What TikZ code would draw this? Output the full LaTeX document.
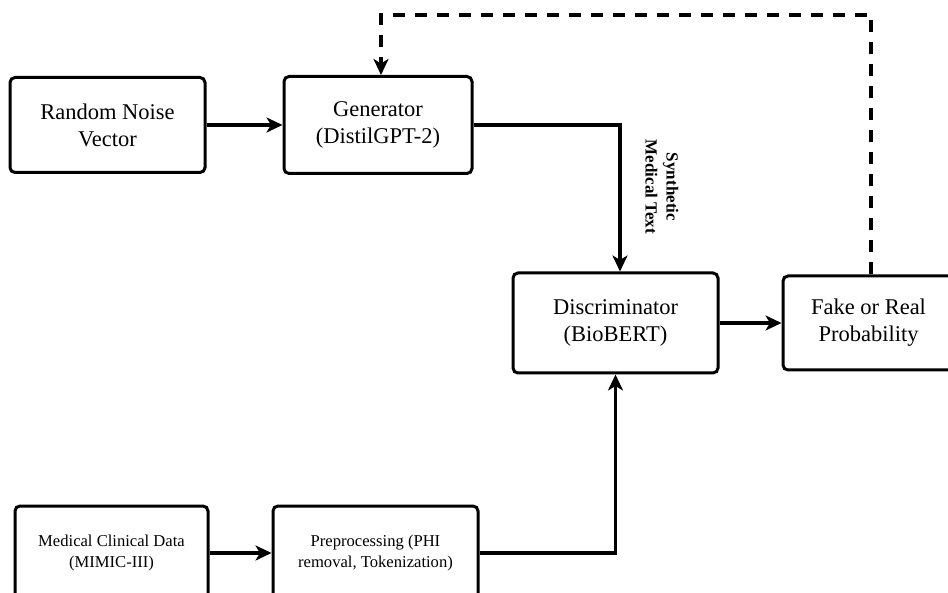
\documentclass[tikz,border=0pt]{standalone}
\usepackage{fontspec}
\setmainfont{Liberation Serif}
\usetikzlibrary{arrows.meta}
\tikzset{
  box/.style={draw, line width=3pt, rounded corners=5pt, inner sep=0pt, align=center,
    font=\fontsize{22.5}{27}\selectfont},
  smallbox/.style={box, font=\fontsize{16.6}{20.5}\selectfont},
  arr/.style={line width=3.3pt, -{Stealth[length=16pt,width=15pt,inset=4.5pt]}},
  dashline/.style={line width=3.5pt, dash pattern=on 12pt off 10pt, -{Stealth[length=16pt,width=15pt,inset=4.5pt]}},
  lbl/.style={font=\bfseries\fontsize{17}{21}\selectfont, align=center}
}
\begin{document}
\begin{tikzpicture}[x=1pt,y=-1pt]
\useasboundingbox (0,0) rectangle (948,593);
\node[box, minimum width=195pt, minimum height=95pt] (rand) at (107.5,125) {Random Noise\\Vector};
\node[box, minimum width=188pt, minimum height=97pt] (gen) at (378,125) {Generator\\(DistilGPT-2)};
\node[box, minimum width=205pt, minimum height=100pt] (disc) at (615.5,323) {Discriminator\\(BioBERT)};
\node[box, minimum width=171pt, minimum height=94pt] (fake) at (868.5,323) {Fake or Real\\Probability};
\node[smallbox, minimum width=193pt, minimum height=94pt] (med) at (111.5,553) {Medical Clinical Data\\(MIMIC-III)};
\node[smallbox, minimum width=205pt, minimum height=94pt] (pre) at (375.5,553) {Preprocessing (PHI\\removal, Tokenization)};
\node[lbl, rotate=-90] (synt) at (662,187) {Synthetic\\Medical Text};
\coordinate (topR) at (871,15);
\coordinate (topL) at (381,15);
\draw[arr] (rand) -- (gen);
\draw[arr] (disc) -- (fake);
\draw[arr] (med) -- (pre);
\draw[arr] (gen.east) -| ([xshift=4.5pt]disc.north);
\draw[arr] (pre.east) -| (disc.south);
\draw[dashline] ([xshift=2.5pt]fake.north) -- (topR) -- (topL) -- ([xshift=3pt]gen.north);
\end{tikzpicture}
\end{document}
